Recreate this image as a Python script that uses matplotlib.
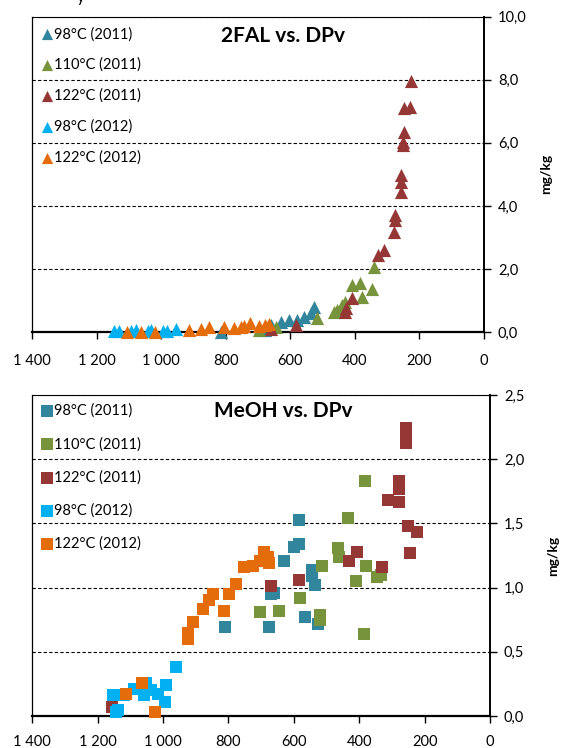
import matplotlib
matplotlib.use('Agg')
import matplotlib.pyplot as plt
from matplotlib.ticker import FuncFormatter, MultipleLocator

plt.rcParams['font.family'] = ['Lato', 'DejaVu Sans']

etiquetas = ['98°C (2011)', '110°C (2011)', '122°C (2011)', '98°C (2012)', '122°C (2012)']
colores = ['#31859C', '#77933C', '#953735', '#00B0F0', '#E46C0A']

# 2FAL vs. DPv (mg/kg)
fal_dp_98_11 = [815, 680, 661, 630, 605, 579, 558, 537, 527]
fal_98_11 = [0.0, 0.05, 0.22, 0.33, 0.38, 0.38, 0.49, 0.60, 0.78]
fal_dp_110_11 = [698, 646, 517, 466, 455, 440, 432, 409, 383, 378, 347, 342]
fal_110_11 = [0.05, 0.17, 0.43, 0.64, 0.70, 0.86, 0.96, 1.49, 1.56, 1.12, 1.38, 2.07]
fal_dp_122_11 = [661, 584, 430, 427, 409, 328, 311, 278, 275, 275, 258, 258, 256, 252, 250, 249, 249, 229, 227]
fal_122_11 = [0.10, 0.22, 0.64, 0.75, 1.07, 2.44, 2.60, 3.16, 3.55, 3.71, 4.45, 4.77, 4.98, 5.93, 6.03, 6.35, 7.09, 7.14, 7.96]
fal_dp_98_12 = [1146, 1130, 1094, 1079, 1042, 1032, 996, 981, 955]
fal_98_12 = [0.02, 0.03, 0.03, 0.05, 0.03, 0.05, 0.02, 0.03, 0.10]
fal_dp_122_12 = [1108, 1064, 1020, 914, 878, 852, 806, 775, 754, 744, 726, 698, 680, 667]
fal_122_12 = [0.0, 0.0, 0.0, 0.05, 0.10, 0.15, 0.15, 0.12, 0.15, 0.18, 0.30, 0.20, 0.22, 0.25]

# MeOH vs. DPv (mg/kg)
meoh_dp_98_11 = [585, 598, 583, 631, 543, 543, 534, 669, 661, 567, 526, 675, 812]
meoh_98_11 = [1.53, 1.32, 1.34, 1.21, 1.14, 1.09, 1.02, 0.95, 0.96, 0.77, 0.72, 0.69, 0.69]
meoh_dp_110_11 = [381, 435, 464, 461, 515, 378, 411, 345, 332, 581, 645, 703, 521, 521, 385]
meoh_110_11 = [1.83, 1.54, 1.31, 1.24, 1.17, 1.17, 1.05, 1.08, 1.10, 0.92, 0.82, 0.81, 0.79, 0.75, 0.64]
meoh_dp_122_11 = [258, 258, 258, 279, 279, 312, 277, 250, 224, 246, 406, 431, 329, 585, 669, 1156]
meoh_122_11 = [2.24, 2.19, 2.13, 1.83, 1.77, 1.68, 1.67, 1.48, 1.43, 1.27, 1.28, 1.21, 1.16, 1.06, 1.01, 0.07]
meoh_dp_98_12 = [960, 990, 995, 1015, 1038, 1053, 1059, 1090, 1119, 1152, 1138, 1145]
meoh_98_12 = [0.38, 0.24, 0.11, 0.17, 0.20, 0.26, 0.16, 0.21, 0.16, 0.16, 0.05, 0.03]
meoh_dp_122_12 = [1026, 1064, 1112, 925, 923, 907, 878, 861, 848, 813, 797, 776, 752, 724, 705, 691, 680, 675]
meoh_122_12 = [0.03, 0.26, 0.17, 0.60, 0.65, 0.73, 0.83, 0.90, 0.95, 0.82, 0.95, 1.03, 1.16, 1.17, 1.21, 1.28, 1.24, 1.19]

x_fmt = FuncFormatter(lambda v, p: f'{int(v):,}'.replace(',', ' '))
y_fmt = FuncFormatter(lambda v, p: f'{v:.1f}'.replace('.', ','))


def dibujar(ax, series, marcador, tam, titulo, pos_titulo, ymax, paso, escala_ley, espacio, ancla_y, pad_x):
    for (dp, val), color, nombre in zip(series, colores, etiquetas):
        ax.scatter(dp, val, marker=marcador, s=tam, color=color, linewidths=0,
                   label=nombre, zorder=3, clip_on=False)

    ax.set_xlim(1400, 0)
    ax.set_ylim(0, ymax)
    ax.xaxis.set_major_locator(MultipleLocator(200))
    ax.yaxis.set_major_locator(MultipleLocator(paso))
    ax.xaxis.set_major_formatter(x_fmt)
    ax.yaxis.set_major_formatter(y_fmt)
    ax.yaxis.tick_right()
    ax.yaxis.set_label_position('right')
    ax.tick_params(axis='both', direction='out', length=5, width=1, labelsize=10.5, colors='black')
    ax.tick_params(axis='x', pad=pad_x)
    ax.tick_params(axis='y', pad=5)

    ax.grid(axis='y', linestyle=(0, (3, 2)), color='black', linewidth=0.8)
    ax.set_axisbelow(True)
    ax.spines['bottom'].set_linewidth(1.6)
    ax.spines['right'].set_linewidth(1.4)
    ax.spines['left'].set_linewidth(0.9)
    ax.spines['top'].set_linewidth(0.8)

    ax.set_ylabel('mg/kg', fontsize=10, fontweight='bold')
    ax.yaxis.set_label_coords(1.125, 0.5)

    ax.text(pos_titulo[0], pos_titulo[1], titulo, transform=ax.transAxes,
            ha='center', va='center', fontsize=15, fontweight='bold')

    ax.legend(loc='upper left', bbox_to_anchor=(0.0, ancla_y), frameon=False,
              fontsize=10.5, handlelength=0.6, handletextpad=0.2,
              labelspacing=espacio, markerscale=escala_ley, borderaxespad=0.3)


fig = plt.figure(figsize=(5.61, 7.48), dpi=100)
ax1 = fig.add_axes([0.0576, 0.5561, 0.8051, 0.4216])
ax2 = fig.add_axes([0.0576, 0.0428, 0.8158, 0.4291])

series_fal = [(fal_dp_98_11, fal_98_11), (fal_dp_110_11, fal_110_11), (fal_dp_122_11, fal_122_11),
              (fal_dp_98_12, fal_98_12), (fal_dp_122_12, fal_122_12)]
series_meoh = [(meoh_dp_98_11, meoh_98_11), (meoh_dp_110_11, meoh_110_11), (meoh_dp_122_11, meoh_122_11),
               (meoh_dp_98_12, meoh_98_12), (meoh_dp_122_12, meoh_122_12)]

dibujar(ax1, series_fal, '^', 90, '2FAL vs. DPv', (0.555, 0.939), 10, 2, 0.85, 1.13, 1.0, 11)
dibujar(ax2, series_meoh, 's', 75, 'MeOH vs. DPv', (0.548, 0.951), 2.5, 0.5, 1.0, 1.3, 1.005, 9)

# resto de un texto superior cortado
fig.text(81 / 561, 1 - 2 / 748, 'y', ha='center', va='baseline', fontsize=11)

fig.savefig('out.png', dpi=100)
